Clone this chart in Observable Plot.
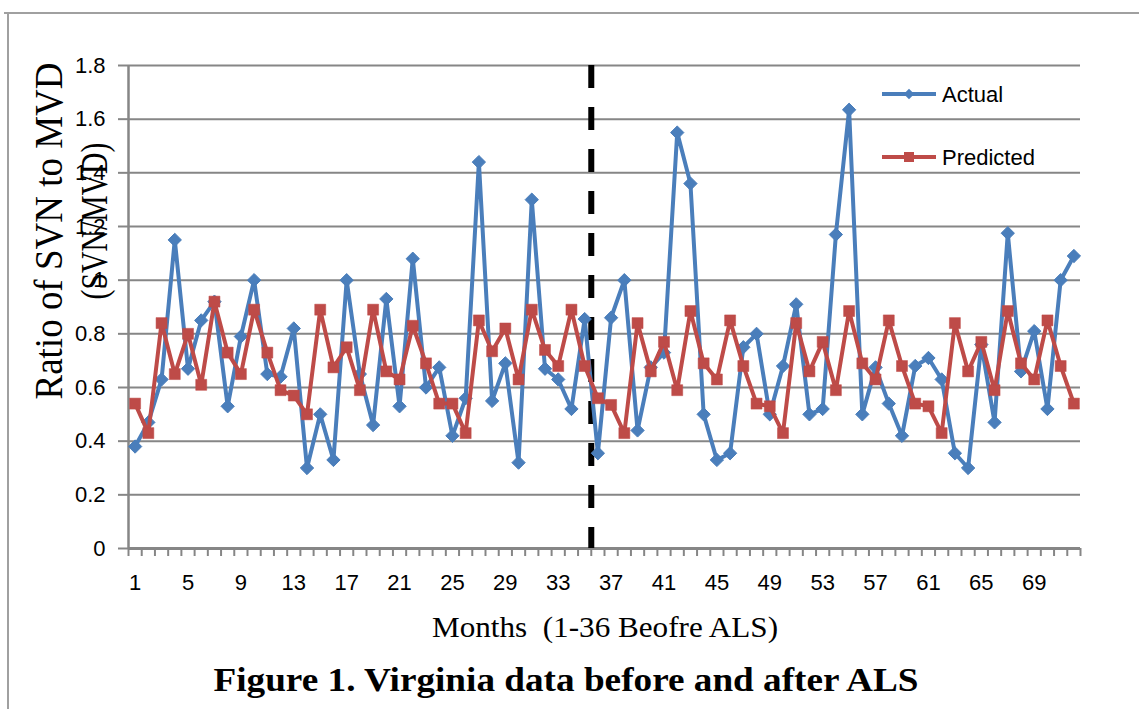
<!DOCTYPE html>
<html>
<head>
<meta charset="utf-8">
<script src="https://cdn.jsdelivr.net/npm/d3@7"></script>
<script src="https://cdn.jsdelivr.net/npm/@observablehq/plot@0.6"></script>
<style>
  html, body { margin: 0; padding: 0; background: #ffffff; }
  #chart { width: 1139px; height: 709px; overflow: hidden; }
</style>
</head>
<body>
<div id="chart"></div>
<script>
// ---- Data ----
const actual = [
  0.38, 0.47, 0.63, 1.15, 0.67, 0.85, 0.92, 0.53, 0.79, 1.00, 0.65, 0.64,
  0.82, 0.30, 0.50, 0.33, 1.00, 0.65, 0.46, 0.93, 0.53, 1.08, 0.60, 0.675,
  0.42, 0.56, 1.44, 0.55, 0.69, 0.32, 1.30, 0.67, 0.63, 0.52, 0.855, 0.355,
  0.86, 1.00, 0.44, 0.675, 0.73, 1.55, 1.36, 0.50, 0.33, 0.355, 0.75, 0.80,
  0.50, 0.68, 0.91, 0.50, 0.52, 1.17, 1.635, 0.50, 0.675, 0.54, 0.42, 0.68,
  0.71, 0.63, 0.355, 0.30, 0.76, 0.47, 1.175, 0.66, 0.81, 0.52, 1.00, 1.09
];
const predicted = [
  0.54, 0.43, 0.84, 0.65, 0.80, 0.61, 0.92, 0.73, 0.65, 0.89, 0.73, 0.59,
  0.57, 0.50, 0.89, 0.675, 0.75, 0.59, 0.89, 0.66, 0.63, 0.83, 0.69, 0.54,
  0.54, 0.43, 0.85, 0.735, 0.82, 0.63, 0.89, 0.74, 0.68, 0.89, 0.68, 0.56,
  0.535, 0.43, 0.84, 0.66, 0.77, 0.59, 0.885, 0.69, 0.63, 0.85, 0.68, 0.54,
  0.53, 0.43, 0.84, 0.66, 0.77, 0.59, 0.885, 0.69, 0.63, 0.85, 0.68, 0.54,
  0.53, 0.43, 0.84, 0.66, 0.77, 0.59, 0.885, 0.69, 0.63, 0.85, 0.68, 0.54
];
const months = actual.map((_, i) => i + 1);
const xTickLabels = [1, 5, 9, 13, 17, 21, 25, 29, 33, 37, 41, 45, 49, 53, 57, 61, 65, 69];
const yTicks = [0, 0.2, 0.4, 0.6, 0.8, 1.0, 1.2, 1.4, 1.6, 1.8];
const alsBoundary = [35.5];
const seriesNames = ["Actual", "Predicted"];

const blue = "#4a7ebb";
const red = "#be4b48";
const axisGray = "#868686";

const actualRows = months.map((m, i) => ({month: m, value: actual[i]}));
const predictedRows = months.map((m, i) => ({month: m, value: predicted[i]}));
const boundaries = d3.range(0, months.length + 1).map(i => i + 0.5);

const svg = Plot.plot({
  width: 1139,
  height: 709,
  marginLeft: 128,
  marginRight: 59,
  marginTop: 65,
  marginBottom: 161,
  style: {fontFamily: "'Liberation Sans', Arial, sans-serif", fontSize: "22px", color: "#000", background: "#fff"},
  x: {domain: [0.5, months.length + 0.5]},
  y: {domain: [0, 1.8]},
  marks: [
    Plot.gridY(yTicks, {stroke: axisGray, strokeOpacity: 1, strokeWidth: 2}),
    Plot.ruleX([0.5], {stroke: axisGray, strokeWidth: 2.5}),
    Plot.ruleY([0], {stroke: axisGray, strokeWidth: 3}),
    Plot.axisY({ticks: yTicks, tickSize: 10, tickPadding: 13, stroke: axisGray, strokeWidth: 2,
      tickFormat: d => String(+d.toFixed(1)), fontSize: 22, label: null, fill: "#000"}),
    Plot.axisX({ticks: boundaries, tickSize: 8, tickFormat: () => "", stroke: axisGray, strokeWidth: 2, label: null}),
    Plot.axisX({ticks: xTickLabels, tickSize: 0, tickPadding: 26, fontSize: 22, label: null, fill: "#000"}),
    Plot.ruleX(alsBoundary, {stroke: "#000", strokeWidth: 6, strokeDasharray: "23,19"}),
    Plot.line(actualRows, {x: "month", y: "value", stroke: blue, strokeWidth: 4}),
    Plot.dot(actualRows, {x: "month", y: "value", symbol: "diamond2", r: 6, fill: blue, stroke: blue, strokeWidth: 1}),
    Plot.line(predictedRows, {x: "month", y: "value", stroke: red, strokeWidth: 4}),
    Plot.dot(predictedRows, {x: "month", y: "value", symbol: "square", r: 6.2, fill: red, stroke: red, strokeWidth: 0.5})
  ]
});

const s = d3.select(svg);

// Outer frame
s.append("line").attr("x1", 4).attr("y1", 13).attr("x2", 1139).attr("y2", 13)
  .attr("stroke", "#a0a0a0").attr("stroke-width", 2);
s.append("line").attr("x1", 8).attr("y1", 13).attr("x2", 8).attr("y2", 709)
  .attr("stroke", "#a0a0a0").attr("stroke-width", 2);

// Legend
const legend = [
  {name: seriesNames[0], color: blue, y: 94, sym: d3.symbolDiamond2, size: 70},
  {name: seriesNames[1], color: red, y: 157, sym: d3.symbolSquare, size: 100}
];
legend.forEach(l => {
  s.append("line").attr("x1", 882).attr("x2", 936).attr("y1", l.y).attr("y2", l.y)
    .attr("stroke", l.color).attr("stroke-width", 4);
  s.append("path").attr("d", d3.symbol(l.sym, l.size)())
    .attr("transform", `translate(909,${l.y})`).attr("fill", l.color);
  s.append("text").attr("x", 942).attr("y", l.y).attr("dy", "0.35em")
    .attr("text-anchor", "start")
    .attr("font-family", "'Liberation Sans', Arial, sans-serif").attr("font-size", 22)
    .attr("fill", "#000").text(l.name);
});

// Y axis title (two overlapping lines as in the reference)
s.append("text").attr("transform", "translate(62,231) rotate(-90)")
  .attr("text-anchor", "middle").attr("font-family", "'Liberation Serif', 'Times New Roman', serif")
  .attr("font-size", 40).attr("textLength", 337).attr("lengthAdjust", "spacingAndGlyphs")
  .attr("fill", "#000").text("Ratio of SVN to MVD");
s.append("text").attr("transform", "translate(107,221) rotate(-90)")
  .attr("text-anchor", "middle").attr("font-family", "'Liberation Serif', 'Times New Roman', serif")
  .attr("font-size", 38).attr("textLength", 157).attr("lengthAdjust", "spacingAndGlyphs")
  .attr("fill", "#000").text("(SVN/MVD)");

// X axis title
s.append("text").attr("x", 605).attr("y", 637).attr("text-anchor", "middle")
  .style("white-space", "pre")
  .attr("font-family", "'Liberation Serif', 'Times New Roman', serif")
  .attr("font-size", 29).attr("textLength", 346).attr("lengthAdjust", "spacingAndGlyphs")
  .attr("fill", "#000").text("Months  (1-36 Beofre ALS)");

// Figure caption
s.append("text").attr("x", 566).attr("y", 691).attr("text-anchor", "middle")
  .attr("font-family", "'Liberation Serif', 'Times New Roman', serif")
  .attr("font-weight", "bold")
  .attr("font-size", 33).attr("textLength", 705).attr("lengthAdjust", "spacingAndGlyphs")
  .attr("fill", "#000").text("Figure 1. Virginia data before and after ALS");

document.getElementById("chart").appendChild(svg);
</script>
</body>
</html>
